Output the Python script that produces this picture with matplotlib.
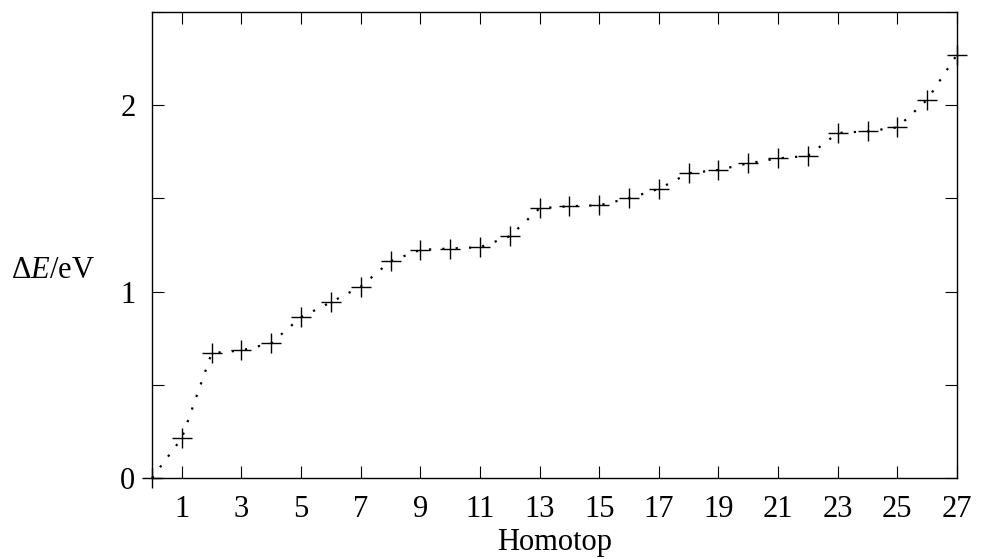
import matplotlib
matplotlib.use("Agg")
import matplotlib.pyplot as plt
from matplotlib.ticker import MultipleLocator, FuncFormatter

plt.rcParams['font.family'] = ['Liberation Serif', 'DejaVu Serif']
plt.rcParams['mathtext.fontset'] = 'custom'
plt.rcParams['mathtext.rm'] = 'Liberation Serif'
plt.rcParams['mathtext.it'] = 'Liberation Serif:italic'

homotop = list(range(28))
delta_e = [0.0, 0.214, 0.670, 0.684, 0.724, 0.863, 0.943, 1.027, 1.163, 1.224,
           1.231, 1.238, 1.297, 1.447, 1.458, 1.463, 1.501, 1.551, 1.635, 1.653,
           1.688, 1.715, 1.728, 1.851, 1.860, 1.881, 2.029, 2.271]
xticks = list(range(1, 28, 2))

fig = plt.figure(figsize=(9.81, 5.59), dpi=100)
ax = fig.add_axes([0.155, 0.145, 0.8205, 0.8335])

ax.plot(homotop, delta_e, color='black', linestyle=(0, (1, 5)), linewidth=1.6,
        marker='+', markersize=15, markeredgewidth=1.0, clip_on=False, zorder=3)

ax.set_xlim(0, 27)
ax.set_ylim(0, 2.5)
ax.set_xticks(xticks)
ax.yaxis.set_major_locator(MultipleLocator(0.5))
ax.yaxis.set_major_formatter(FuncFormatter(lambda v, p: '%d' % v if abs(v - round(v)) < 1e-6 else ''))

ax.tick_params(direction='in', length=8.5, width=0.8, top=True, right=True,
               labelsize=22, pad=12)
for s in ax.spines.values():
    s.set_linewidth(1.0)

ax.set_xlabel('Homotop', fontsize=22, labelpad=3)
ax.set_ylabel(r'$\Delta E$/eV', fontsize=22, rotation=0, ha='center', va='center')
ax.yaxis.set_label_coords(-0.123, 0.446)

fig.savefig('out.png', dpi=100)
